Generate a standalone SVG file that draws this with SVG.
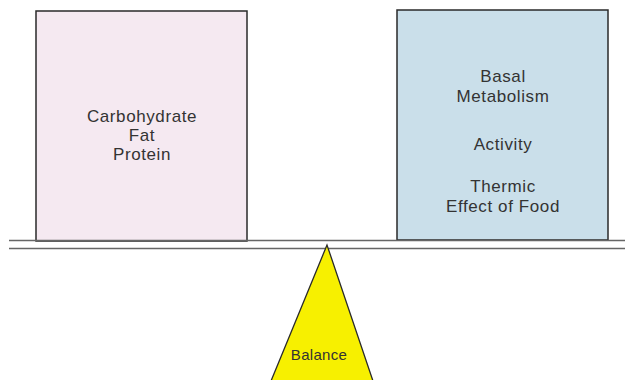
<svg xmlns="http://www.w3.org/2000/svg" width="625" height="380" viewBox="0 0 625 380">
<style>
.box{stroke:#2a2a2a;stroke-width:1.5}
.lbl{font-family:"Liberation Sans",Arial,sans-serif;font-size:17px;letter-spacing:0.6px;fill:#333;text-anchor:middle}
.small{font-size:15px;letter-spacing:0.3px}
.beam{stroke:#666;stroke-width:1.3;fill:none}
</style>
<rect width="625" height="380" fill="#ffffff"/>
<g id="intake">
<rect class="box" x="36" y="11" width="211" height="230" fill="#f5e9f1"/>
<text class="lbl" x="142" y="122">Carbohydrate</text>
<text class="lbl" x="142" y="141">Fat</text>
<text class="lbl" x="142" y="160">Protein</text>
</g>
<g id="expenditure">
<rect class="box" x="397" y="10" width="211" height="230" fill="#cadfea"/>
<text class="lbl" x="503" y="82">Basal</text>
<text class="lbl" x="503" y="102">Metabolism</text>
<text class="lbl" x="503" y="150">Activity</text>
<text class="lbl" x="503" y="192">Thermic</text>
<text class="lbl" x="503" y="212">Effect of Food</text>
</g>
<g id="beam">
<line class="beam" x1="9" y1="240.5" x2="625" y2="240.5"/>
<line class="beam" x1="9" y1="248.5" x2="625" y2="248.5"/>
</g>
<g id="fulcrum">
<polygon points="327,245 271,381 373,381" fill="#f7f000" stroke="#2a2a2a" stroke-width="1.3"/>
<text class="lbl small" x="319" y="360">Balance</text>
</g>
</svg>
